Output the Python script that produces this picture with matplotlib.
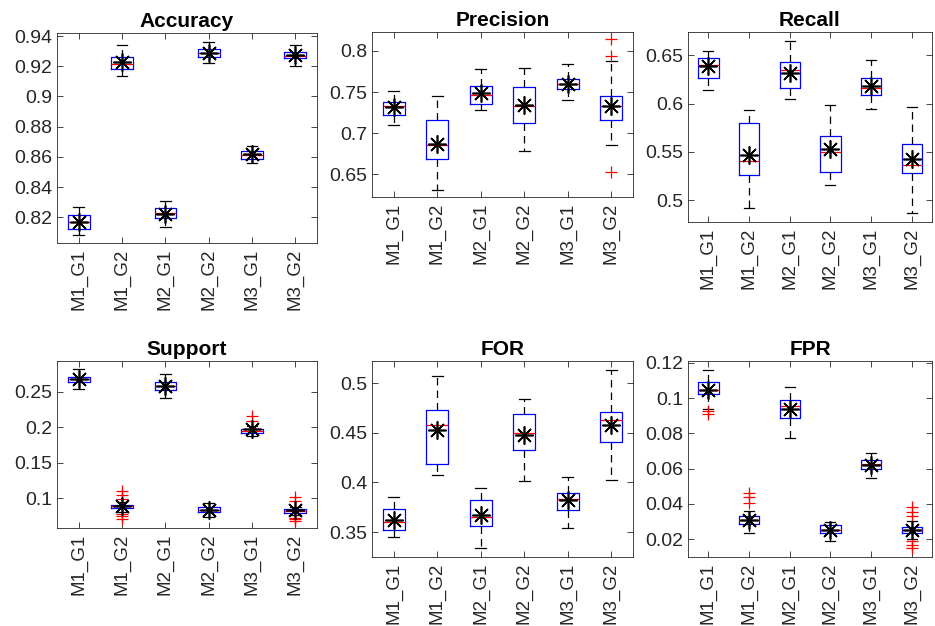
import numpy as np
import matplotlib
matplotlib.use("Agg")
import matplotlib.pyplot as plt
from matplotlib.ticker import FormatStrFormatter

plt.rcParams["font.family"] = ["Liberation Sans", "DejaVu Sans"]

groups = ["M1_G1", "M1_G2", "M2_G1", "M2_G2", "M3_G1", "M3_G2"]

# ----------------------------
# Box statistics
# ----------------------------
acc_hi = [0.8267, 0.9340, 0.8306, 0.9362, 0.8672, 0.9338]
acc_q3 = [0.8216, 0.9260, 0.8262, 0.9314, 0.8638, 0.9296]
acc_med = [0.8171, 0.9212, 0.8231, 0.9287, 0.8610, 0.9269]
acc_q1 = [0.8123, 0.9185, 0.8198, 0.9263, 0.8588, 0.9256]
acc_lo = [0.8085, 0.9134, 0.8138, 0.9223, 0.8561, 0.9199]
acc_mean = [0.8170, 0.9230, 0.8224, 0.9290, 0.8616, 0.9272]
acc_out = [[], [], [], [], [], []]

prec_hi = [0.7510, 0.7453, 0.7785, 0.7793, 0.7842, 0.7882]
prec_q3 = [0.7380, 0.7165, 0.7570, 0.7562, 0.7655, 0.7449]
prec_med = [0.7327, 0.6853, 0.7461, 0.7335, 0.7603, 0.7335]
prec_q1 = [0.7218, 0.6691, 0.7360, 0.7124, 0.7538, 0.7157]
prec_lo = [0.7096, 0.6314, 0.7287, 0.6788, 0.7408, 0.6857]
prec_mean = [0.7320, 0.6873, 0.7489, 0.7347, 0.7603, 0.7335]
prec_out = [[], [], [], [], [], [0.8142, 0.7943, 0.6524]]

rec_hi = [0.6541, 0.5931, 0.6652, 0.5986, 0.6452, 0.5969]
rec_q3 = [0.6476, 0.5800, 0.6431, 0.5666, 0.6266, 0.5586]
rec_med = [0.6403, 0.5410, 0.6345, 0.5503, 0.6159, 0.5369]
rec_q1 = [0.6269, 0.5266, 0.6166, 0.5297, 0.6093, 0.5286]
rec_lo = [0.6138, 0.4917, 0.6052, 0.5162, 0.5941, 0.4869]
rec_mean = [0.6386, 0.5466, 0.6317, 0.5528, 0.6179, 0.5424]
rec_out = [[], [], [], [], [], []]

sup_hi = [0.2823, 0.0940, 0.2758, 0.0930, 0.2025, 0.0880]
sup_q3 = [0.2716, 0.0906, 0.2645, 0.0873, 0.1970, 0.0850]
sup_med = [0.2678, 0.0882, 0.2589, 0.0838, 0.1946, 0.0822]
sup_q1 = [0.2636, 0.0854, 0.2523, 0.0803, 0.1914, 0.0789]
sup_lo = [0.2538, 0.0810, 0.2416, 0.0733, 0.1870, 0.0755]
sup_mean = [0.2688, 0.0883, 0.2589, 0.0830, 0.1970, 0.0836]
sup_out = [[], [0.1105, 0.1040, 0.0985, 0.0770, 0.0745, 0.0710], [], [],
           [0.2162, 0.2087], [0.1014, 0.0955, 0.0725, 0.0700, 0.0680]]

for_hi = [0.3853, 0.5074, 0.3944, 0.4839, 0.4055, 0.5138]
for_q3 = [0.3729, 0.4734, 0.3823, 0.4691, 0.3897, 0.4708]
for_med = [0.3598, 0.4583, 0.3648, 0.4496, 0.3833, 0.4627]
for_q1 = [0.3517, 0.4190, 0.3557, 0.4331, 0.3726, 0.4405]
for_lo = [0.3450, 0.4072, 0.3339, 0.4011, 0.3537, 0.4021]
for_mean = [0.3625, 0.4533, 0.3675, 0.4475, 0.3820, 0.4583]
for_out = [[], [], [], [], [], []]

fpr_hi = [0.1160, 0.0360, 0.1061, 0.0296, 0.0686, 0.0303]
fpr_q3 = [0.1093, 0.0333, 0.0991, 0.0277, 0.0646, 0.0271]
fpr_med = [0.1044, 0.0309, 0.0955, 0.0249, 0.0626, 0.0253]
fpr_q1 = [0.1021, 0.0286, 0.0884, 0.0234, 0.0595, 0.0237]
fpr_lo = [0.0940, 0.0237, 0.0773, 0.0190, 0.0545, 0.0200]
fpr_mean = [0.1048, 0.0309, 0.0940, 0.0249, 0.0620, 0.0249]
fpr_out = [[0.0927, 0.0912], [0.0460, 0.0437, 0.0407], [], [], [],
           [0.0384, 0.0356, 0.0328, 0.0186, 0.0168, 0.0149]]

panels = [
    ("Accuracy", acc_lo, acc_q1, acc_med, acc_q3, acc_hi, acc_mean, acc_out,
     (0.803, 0.942), [0.82, 0.84, 0.86, 0.88, 0.9, 0.92, 0.94]),
    ("Precision", prec_lo, prec_q1, prec_med, prec_q3, prec_hi, prec_mean, prec_out,
     (0.6224, 0.8231), [0.65, 0.7, 0.75, 0.8]),
    ("Recall", rec_lo, rec_q1, rec_med, rec_q3, rec_hi, rec_mean, rec_out,
     (0.4776, 0.6741), [0.5, 0.55, 0.6, 0.65]),
    ("Support", sup_lo, sup_q1, sup_med, sup_q3, sup_hi, sup_mean, sup_out,
     (0.0578, 0.2936), [0.1, 0.15, 0.2, 0.25]),
    ("FOR", for_lo, for_q1, for_med, for_q3, for_hi, for_mean, for_out,
     (0.3248, 0.5225), [0.35, 0.4, 0.45, 0.5]),
    ("FPR", fpr_lo, fpr_q1, fpr_med, fpr_q3, fpr_hi, fpr_mean, fpr_out,
     (0.0098, 0.121), [0.02, 0.04, 0.06, 0.08, 0.1, 0.12]),
]

# axes boxes in pixels: left, right, top, bottom
W, H = 935, 626
boxes_px = [
    (57, 317, 33, 243),
    (372, 633, 32, 197),
    (688, 932, 32, 222),
    (57, 317, 361, 528),
    (372, 633, 361, 557),
    (688, 932, 361, 557),
]

AX_COL = "#262626"

fig = plt.figure(figsize=(W / 100, H / 100), dpi=100)

for (title, lo, q1, med, q3, hi, mean, out, ylim, yticks), (l, r, t, b) in zip(panels, boxes_px):
    ax = fig.add_axes([l / W, 1 - b / H, (r - l) / W, (b - t) / H])
    stats = []
    for i, name in enumerate(groups):
        stats.append({
            "label": name, "whislo": lo[i], "q1": q1[i], "med": med[i],
            "q3": q3[i], "whishi": hi[i], "fliers": out[i],
        })
    pos = np.arange(1, len(groups) + 1)
    ax.bxp(stats, positions=pos, widths=0.5, capwidths=0.25, showfliers=True,
           boxprops=dict(color="blue", linewidth=0.9),
           medianprops=dict(color="red", linewidth=0.9),
           whiskerprops=dict(color="black", linewidth=0.9, linestyle=(0, (6, 4))),
           capprops=dict(color="black", linewidth=0.9),
           flierprops=dict(marker="+", markeredgecolor="red", markersize=8,
                           markeredgewidth=0.9, linestyle="none"))
    ax.plot(pos, mean, linestyle="none", marker=(8, 2, 0), markersize=13,
            markeredgewidth=1.2, color="black", zorder=5)

    ax.set_xlim(0.5, len(groups) + 0.5)
    ax.set_ylim(*ylim)
    ax.set_yticks(yticks)
    ax.yaxis.set_major_formatter(FormatStrFormatter("%g"))
    ax.set_xticks(pos)
    ax.set_xticklabels(groups, rotation=90)
    ax.set_title(title, fontsize=15, fontweight="bold", pad=4)
    ax.tick_params(axis="y", labelsize=14)
    ax.tick_params(axis="x", labelsize=13.5, pad=4)
    ax.tick_params(direction="in", length=4, width=0.6, colors=AX_COL,
                   top=True, right=True)
    for sp in ax.spines.values():
        sp.set_color(AX_COL)
        sp.set_linewidth(0.6)

fig.savefig("out.png", dpi=100)
